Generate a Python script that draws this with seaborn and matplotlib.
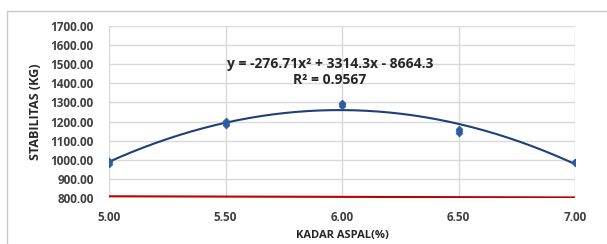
import numpy as np
import pandas as pd
import matplotlib
matplotlib.use("Agg")
import matplotlib.pyplot as plt
import seaborn as sns

# Data (several specimens per asphalt content)
kadar_aspal = [5.0, 5.0, 5.0, 5.5, 5.5, 5.5, 6.0, 6.0, 6.0, 6.5, 6.5, 6.5, 7.0, 7.0, 7.0]
stabilitas = [978, 988, 996, 1184, 1194, 1204, 1282, 1290, 1298, 1138, 1150, 1160, 982, 986, 990]

# Polynomial trendline coefficients (as printed on chart)
trend_coef = [-276.71, 3314.3, -8664.3]
trend_label = "y = -276.71x² + 3314.3x - 8664.3"
r2_label = "R² = 0.9567"

# Red reference line
ref_x = [5.0, 7.0]
ref_y = [809, 803]

x_ticks = [5.0, 5.5, 6.0, 6.5, 7.0]
y_ticks = list(range(800, 1701, 100))

df = pd.DataFrame({"kadar": kadar_aspal, "stabilitas": stabilitas})
xs = np.linspace(5.0, 7.0, 200)
df_trend = pd.DataFrame({"kadar": xs, "stabilitas": np.polyval(trend_coef, xs)})
df_ref = pd.DataFrame({"kadar": ref_x, "stabilitas": ref_y})

sns.set_style("white")
plt.rcParams['font.family'] = ['Open Sans', 'DejaVu Sans']

fig = plt.figure(figsize=(6.07, 2.44), dpi=100)
ax = fig.add_axes([0.1796, 0.1885, 0.768, 0.705])

# outer chart border (top and left only visible)
fig.add_artist(plt.Line2D([7/607, 1.0], [1 - 11/244, 1 - 11/244], color="#c8c8c8", lw=1))
fig.add_artist(plt.Line2D([7/607, 7/607], [0, 1 - 11/244], color="#c8c8c8", lw=1))

sns.lineplot(data=df_ref, x="kadar", y="stabilitas", color="#c00000", lw=1.5, ax=ax)
sns.lineplot(data=df_trend, x="kadar", y="stabilitas", color="#1f3f7a", lw=1.5, ax=ax)
sns.scatterplot(data=df, x="kadar", y="stabilitas", color="#2e5c9e", marker="D",
                s=12, edgecolor="#2e5c9e", linewidth=0.5, zorder=5, ax=ax)

ax.set_xlim(5.0, 7.0)
ax.set_ylim(800, 1700)
ax.set_xticks(x_ticks)
ax.set_yticks(y_ticks)
ax.set_xticklabels([f"{v:.2f}" for v in x_ticks])
ax.set_yticklabels([f"{v:.2f}" for v in y_ticks])
ax.grid(True, color="#d9d9d9", lw=1)
ax.set_axisbelow(True)
for s in ax.spines.values():
    s.set_visible(False)
ax.tick_params(length=0, labelsize=8.5, colors="#404040")
ax.tick_params(axis="y", pad=11)
ax.tick_params(axis="x", pad=9)
for lab in ax.get_xticklabels() + ax.get_yticklabels():
    lab.set_fontweight("bold")

ax.set_xlabel("KADAR ASPAL(%)", fontsize=8, fontweight="bold", color="#262626", labelpad=5)
ax.set_ylabel("STABILITAS (KG)", fontsize=9, fontweight="bold", color="#262626", labelpad=6)

ax.text(0.474, 0.78, trend_label, transform=ax.transAxes, ha="center", va="center",
        fontsize=10, fontweight="bold", color="#262626")
ax.text(0.474, 0.685, r2_label, transform=ax.transAxes, ha="center", va="center",
        fontsize=10, fontweight="bold", color="#262626")

fig.savefig("out.png", dpi=100, facecolor="white")
